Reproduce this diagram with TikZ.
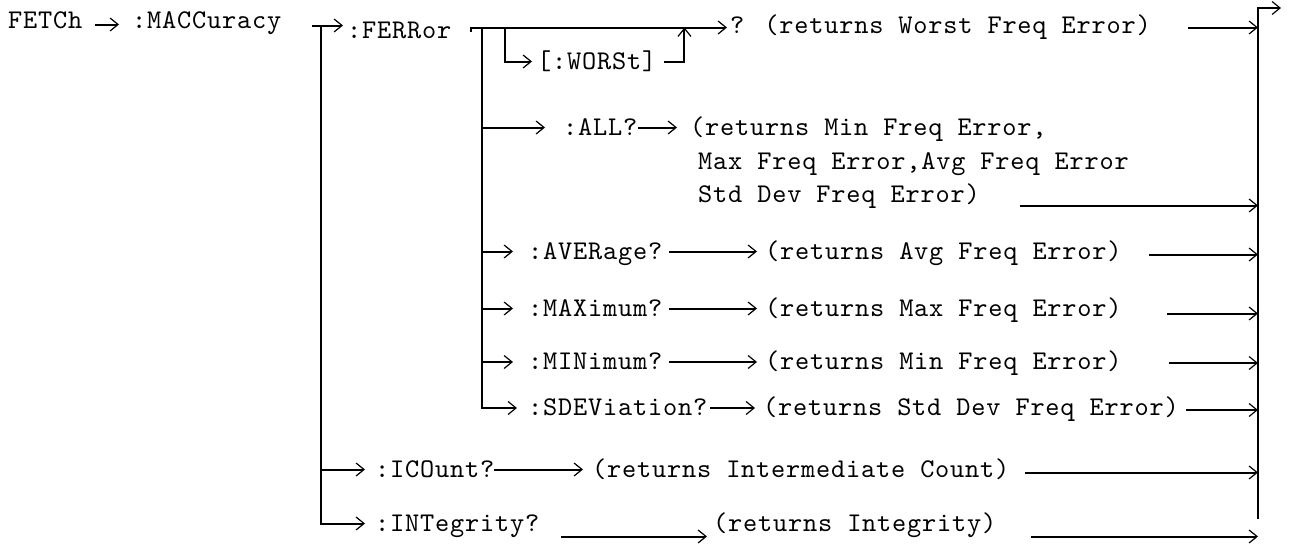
\documentclass[tikz,border=0pt]{standalone}
\usepackage{fontspec}
\newfontfamily\cour{lmmono10-regular}[Extension=.otf, LetterSpace=3]
\usetikzlibrary{arrows.meta}
\begin{document}
\begin{tikzpicture}[x=1pt,y=-1pt,
  lbl/.style={inner sep=0pt, anchor=base west, text height=19pt, text depth=4pt,
    font=\cour\fontsize{27}{32}\selectfont},
  arr/.style={line width=2pt, -{Straight Barb[length=8pt,width=13pt,line width=1.2pt]}}]
\useasboundingbox (0,0) rectangle (1291,546);
% nodes
\node[lbl] (fetch) at (8,28) {FETCh};
\node[lbl] (macc) at (132,28) {:MACCuracy};
\node[lbl] (ferr) at (347,38) {:FERRor};
\node[lbl] (worst) at (730,33) {? (returns Worst Freq Error)};
\node[lbl] (wbr) at (537,69) {[:WORSt]};
\node[lbl] (allq) at (563,135) {:ALL?};
\node[lbl] (allr1) at (690,135) {(returns Min Freq Error,};
\node[lbl] (allr2) at (698,169) {Max Freq Error,Avg Freq Error};
\node[lbl] (allr3) at (698,202) {Std Dev Freq Error)};
\node[lbl] (avg) at (528,259) {:AVERage?};
\node[lbl] (avgr) at (765,259) {(returns Avg Freq Error)};
\node[lbl] (max) at (528,316) {:MAXimum?};
\node[lbl] (maxr) at (765,316) {(returns Max Freq Error)};
\node[lbl] (min) at (528,369.5) {:MINimum?};
\node[lbl] (minr) at (765,369.5) {(returns Min Freq Error)};
\node[lbl] (sdev) at (528,415.5) {:SDEViation?};
\node[lbl] (sdevr) at (763,415.5) {(returns Std Dev Freq Error)};
\node[lbl] (ic) at (375,477) {:ICOunt?};
\node[lbl] (icr) at (592,477) {(returns Intermediate Count)};
\node[lbl] (int) at (375,531) {:INTegrity?};
\node[lbl] (intr) at (713,531) {(returns Integrity)};
% right collector
\coordinate (R) at (1258,519);
\coordinate (Rt) at (1258,8);
\coordinate (Rend) at (1281,8);
\draw[arr] (R) -- (Rt) -- (Rend);
% FETCh -> MACCuracy
\coordinate (f1) at ([xshift=12pt,yshift=-4pt]fetch.east);
\draw[arr, shorten >=13pt] (f1) -- (f1 -| macc.west);
% MACCuracy -> branches
\coordinate (m0) at ([xshift=31pt,yshift=-5pt]macc.east);
\coordinate (b1) at ([xshift=9pt]m0);
\draw[arr, shorten >=4pt] (m0) -- (m0 -| ferr.west);
\draw[arr, shorten >=10pt] (b1) |- (int.west);
\draw[arr, shorten >=10pt] (b1 |- ic.west) -- (ic.west);
% FERRor bracket
\coordinate (q0) at ([xshift=20pt,yshift=-1pt]ferr.east);
\coordinate (q1) at ([xshift=20pt,yshift=3pt]ferr.east);
\coordinate (b2) at ([xshift=11pt]q1);
\coordinate (w0) at ([xshift=34pt]q1);
\coordinate (w1) at ([xshift=28pt]wbr.east);
\draw[arr, shorten >=3pt] (q0) -- (q1) -- (q1 -| worst.west);
\draw[arr, shorten >=5pt] (w0) |- (wbr.west);
\draw[arr] ([xshift=8pt]wbr.east) -- (w1) -- (w1 |- q1);
\draw[arr, shorten >=11pt] (b2) |- (sdev.west);
\draw[arr, shorten >=18pt] (b2 |- allq.west) -- (allq.west);
\draw[arr, shorten >=15pt] (b2 |- avg.west) -- (avg.west);
\draw[arr, shorten >=15pt] (b2 |- max.west) -- (max.west);
\draw[arr, shorten >=15pt] (b2 |- min.west) -- (min.west);
% label -> return text
\draw[arr, shorten >=13pt] (allq.east) -- (allr1.west);
\draw[arr, shorten <=7pt, shorten >=8pt] (avg.east) -- (avgr.west);
\draw[arr, shorten <=7pt, shorten >=8pt] (max.east) -- (maxr.west);
\draw[arr, shorten <=7pt, shorten >=8pt] (min.east) -- (minr.west);
\draw[arr, shorten <=3pt, shorten >=8pt] (sdev.east) -- (sdevr.west);
\draw[arr, shorten >=9pt] (ic.east) -- (icr.west);
\coordinate (i1) at ([xshift=22pt,yshift=-13pt]int.east);
\draw[arr, shorten >=6pt] (i1) -- (i1 -| intr.west);
% return text -> collector
\coordinate (r1) at ([xshift=37pt,yshift=-2pt]worst.east);
\coordinate (r2) at ([xshift=40pt,yshift=-11pt]allr3.east);
\coordinate (r3) at ([xshift=27pt,yshift=-3pt]avgr.east);
\coordinate (r4) at ([xshift=45pt,yshift=-5pt]maxr.east);
\coordinate (r5) at ([xshift=47pt,yshift=-1pt]minr.east);
\coordinate (r6) at ([xshift=7pt,yshift=-2pt]sdevr.east);
\coordinate (r7) at ([xshift=15pt,yshift=-3pt]icr.east);
\coordinate (r8) at ([xshift=34pt,yshift=-13pt]intr.east);
\foreach \r in {r1,r2,r3,r4,r5,r6,r7,r8}
  \draw[arr] (\r) -- (\r -| R);
\end{tikzpicture}
\end{document}
